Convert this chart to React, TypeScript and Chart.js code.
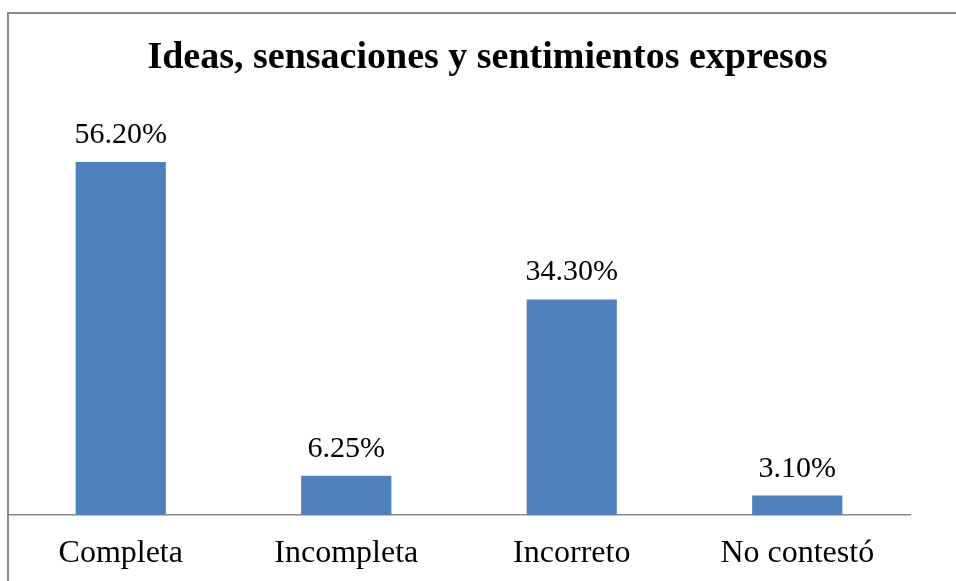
import React, { useEffect, useRef } from "react";
import { Chart, registerables } from "chart.js";

Chart.register(...registerables);

const categories = ["Completa", "Incompleta", "Incorreto", "No contestó"];
const values = [56.2, 6.25, 34.3, 3.1];
const valueLabels = ["56.20%", "6.25%", "34.30%", "3.10%"];
const titleText = "Ideas, sensaciones y sentimientos expresos";

const FONT = '"Liberation Serif", "Times New Roman", serif';

const framePlugin = {
  id: "frame",
  beforeDraw(chart: any) {
    const ctx = chart.ctx;
    ctx.save();
    ctx.fillStyle = "#ffffff";
    ctx.fillRect(0, 0, chart.width, chart.height);
    ctx.strokeStyle = "#8a8a8a";
    ctx.lineWidth = 2;
    ctx.beginPath();
    ctx.moveTo(8, chart.height);
    ctx.lineTo(8, 13);
    ctx.lineTo(chart.width, 13);
    ctx.stroke();
    ctx.restore();
  },
  afterDraw(chart: any) {
    const ctx = chart.ctx;
    ctx.save();
    ctx.fillStyle = "#000000";
    ctx.font = `bold 38px ${FONT}`;
    ctx.textAlign = "center";
    ctx.textBaseline = "alphabetic";
    ctx.fillText(titleText, 487.5, 68);
    ctx.font = `30px ${FONT}`;
    const meta = chart.getDatasetMeta(0);
    meta.data.forEach((bar: any, i: number) => {
      ctx.fillText(valueLabels[i], bar.x, bar.y - 19);
    });
    ctx.restore();
  },
};

export default function App() {
  const ref = useRef<HTMLCanvasElement | null>(null);
  useEffect(() => {
    document.body.style.margin = "0";
    const canvas = ref.current!;
    const chart = new Chart(canvas, {
      type: "bar",
      data: {
        labels: categories,
        datasets: [
          {
            data: values,
            backgroundColor: "#4F81BD",
            borderWidth: 0,
            barPercentage: 0.4,
            categoryPercentage: 1,
          },
        ],
      },
      options: {
        responsive: false,
        animation: false,
        devicePixelRatio: 1,
        layout: { padding: { left: 8, right: 46, top: 138, bottom: 8 } },
        plugins: {
          legend: { display: false },
          title: { display: false },
          tooltip: { enabled: false },
        },
        scales: {
          x: {
            grid: { display: true, drawOnChartArea: false, drawTicks: false, color: "rgba(0,0,0,0)" },
            border: { display: true, color: "#888888", width: 1.5 },
            ticks: { color: "#000000", font: { family: FONT, size: 32 }, padding: 19, maxRotation: 0 },
            afterFit: (s: any) => {
              s.height = 58;
            },
          },
          y: {
            display: false,
            min: 0,
            max: 60,
          },
        },
      },
      plugins: [framePlugin],
    });
    return () => chart.destroy();
  }, []);
  return <canvas ref={ref} width={956} height={581} style={{ display: "block" }} />;
}
